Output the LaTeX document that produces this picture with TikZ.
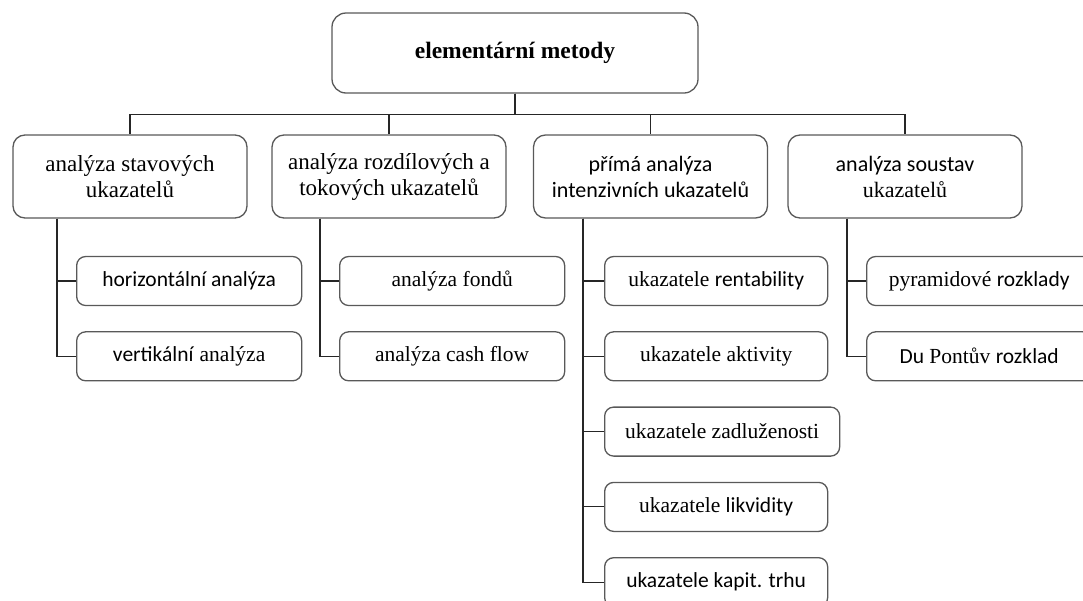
\documentclass[tikz,border=0pt]{standalone}
\usepackage{fontspec}
\setmainfont{Liberation Serif}
\setsansfont{Carlito}
\usetikzlibrary{positioning}

\begin{document}
\begin{tikzpicture}[
    x=1pt, y=-1pt,
    node distance=25pt and 20pt,
    base/.style={rectangle, draw=black!65, line width=1.3pt, rounded corners=9pt, align=center, fill=white, inner sep=3pt},
    root/.style={base, rounded corners=14pt, minimum width=366pt, minimum height=80pt, font=\rmfamily\bfseries\fontsize{23.5}{28}\selectfont},
    group/.style={base, rounded corners=12pt, minimum width=234pt, minimum height=83pt, font=\rmfamily\fontsize{23}{26}\selectfont},
    leaf/.style={base, minimum width=225pt, minimum height=49pt, font=\rmfamily\fontsize{21.5}{26}\selectfont},
    link/.style={draw=black!85, line width=1.1pt}
]
    \useasboundingbox (0,0) rectangle (1083,600);

    % --- Nodes ---
    \node[root] (top) at (515,53) {elementární metody};

    % Second level
    \node[group] (b1) at (130,176.5) {analýza stavových \\ ukazatelů};
    \node[group] (b2) at (389,176.5) {analýza rozdílových a \\ tokových ukazatelů};
    \node[group, font=\sffamily\fontsize{22}{26}\selectfont] (b3) at (650.5,176.5) {přímá analýza \\ intenzivních ukazatelů};
    \node[group, font=\sffamily\fontsize{22}{26}\selectfont] (b4) at (905,176.5) {analýza soustav \\ \textrm{ukazatelů}};

    % Leaves under b1
    \node[leaf, anchor=west] (l11) at (76,281) {\textsf{horizontální analýza}};
    \node[leaf, below=of l11] (l12) {\textsf{vertikální} analýza};

    % Leaves under b2
    \node[leaf, anchor=west] (l21) at (339,281) {analýza fondů};
    \node[leaf, below=of l21] (l22) {analýza cash flow};

    % Leaves under b3
    \node[leaf, minimum width=223pt, anchor=west] (l31) at (604,281) {ukazatele \textsf{rentability}};
    \node[leaf, minimum width=223pt, below=of l31] (l32) {ukazatele aktivity};
    \node[leaf, minimum width=235pt, below=of l32.south west, anchor=north west] (l33) {ukazatele zadluženosti};
    \node[leaf, minimum width=223pt, below=of l33.south west, anchor=north west] (l34) {ukazatele \textsf{likvidity}};
    \node[leaf, minimum width=223pt, below=of l34.south west, anchor=north west] (l35) {\textsf{ukazatele kapit. trhu}};

    % Leaves under b4
    \node[leaf, anchor=west] (l41) at (866,281) {pyramidové \textsf{rozklady}};
    \node[leaf, below=of l41] (l42) {\textsf{Du} Pontův \textsf{rozklad}};

    % --- Connections ---
    \draw[link] (top.south) -- ++(0,21) -| (b1.north);
    \draw[link] (top.south) -- ++(0,21) -| (b2.north);
    \draw[link] (top.south) -- ++(0,21) -| (b3.north);
    \draw[link] (top.south) -- ++(0,21) -| (b4.north);

    \foreach \leaf in {l11,l12}
        \draw[link] (b1.south -| l11.west) ++(-19,0) |- (\leaf.west);
    \foreach \leaf in {l21,l22}
        \draw[link] (b2.south -| l21.west) ++(-19,0) |- (\leaf.west);
    \foreach \leaf in {l31,l32,l33,l34,l35}
        \draw[link] (b3.south -| l31.west) ++(-21,0) |- (\leaf.west);
    \foreach \leaf in {l41,l42}
        \draw[link] (b4.south -| l41.west) ++(-19,0) |- (\leaf.west);

\end{tikzpicture}
\end{document}
